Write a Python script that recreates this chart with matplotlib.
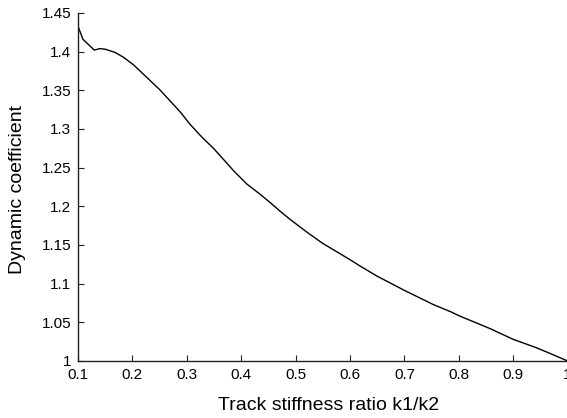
import numpy as np
import matplotlib.pyplot as plt

# stiffness ratio vs dynamic coefficient
ratio = [0.100, 0.109, 0.130, 0.140, 0.151, 0.168, 0.183, 0.202, 0.226, 0.250,
         0.288, 0.306, 0.327, 0.349, 0.367, 0.386, 0.410, 0.434, 0.453, 0.471,
         0.490, 0.520, 0.550, 0.600, 0.618, 0.649, 0.698, 0.753, 0.784, 0.802,
         0.833, 0.857, 0.900, 0.943, 0.967, 1.000]
coef = [1.433, 1.416, 1.402, 1.404, 1.403, 1.399, 1.393, 1.383, 1.367, 1.351,
        1.322, 1.306, 1.290, 1.275, 1.261, 1.246, 1.229, 1.216, 1.205, 1.194,
        1.183, 1.167, 1.152, 1.131, 1.123, 1.110, 1.092, 1.073, 1.064, 1.058,
        1.049, 1.042, 1.028, 1.017, 1.010, 1.000]

xticks = [0.1, 0.2, 0.3, 0.4, 0.5, 0.6, 0.7, 0.8, 0.9, 1.0]
xtick_labels = ["0.1", "0.2", "0.3", "0.4", "0.5", "0.6", "0.7", "0.8", "0.9", "1"]
yticks = [1.0, 1.05, 1.1, 1.15, 1.2, 1.25, 1.3, 1.35, 1.4, 1.45]
ytick_labels = ["1", "1.05", "1.1", "1.15", "1.2", "1.25", "1.3", "1.35", "1.4", "1.45"]

plt.rcParams['font.family'] = ['Liberation Sans', 'DejaVu Sans']

fig = plt.figure(figsize=(5.67, 4.18), dpi=100)
ax = fig.add_axes([0.1376, 0.1364, 0.8635, 0.8325])

ax.plot(ratio, coef, color="black", lw=1.0)

ax.set_xlim(0.1, 1.0)
ax.set_ylim(1.0, 1.45)
ax.set_xticks(xticks)
ax.set_xticklabels(xtick_labels)
ax.set_yticks(yticks)
ax.set_yticklabels(ytick_labels)

for side in ["top", "right"]:
    ax.spines[side].set_visible(False)
for side in ["left", "bottom"]:
    ax.spines[side].set_color("#222222")
    ax.spines[side].set_linewidth(1.0)

ax.tick_params(direction="in", length=4, width=0.8, labelsize=11,
               colors="#222222", labelcolor="black", pad=5)

ax.set_xlabel("Track stiffness ratio k1/k2", fontsize=14)
ax.set_ylabel("Dynamic coefficient", fontsize=14)
ax.xaxis.set_label_coords(0.511, -0.104)
ax.yaxis.set_label_coords(-0.106, 0.492)

fig.savefig("out.png", dpi=100)
